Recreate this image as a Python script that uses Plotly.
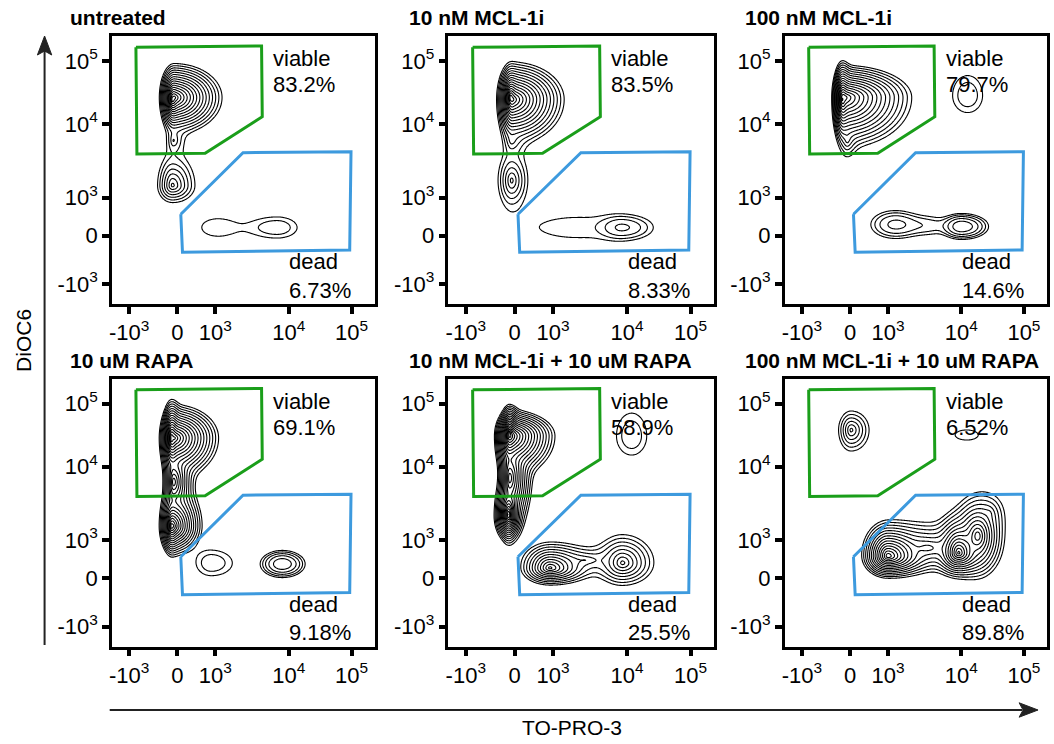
import numpy as np
import plotly.graph_objects as go

# ---------------- data ----------------
PANEL_TITLES = ["untreated", "10 nM MCL-1i", "100 nM MCL-1i",
                "10 uM RAPA", "10 nM MCL-1i + 10 uM RAPA", "100 nM MCL-1i + 10 uM RAPA"]
VIABLE_PCT = ["83.2%", "83.5%", "79.7%", "69.1%", "58.9%", "6.52%"]
DEAD_PCT = ["6.73%", "8.33%", "14.6%", "9.18%", "25.5%", "89.8%"]

# biexponential display scale: tick labels and their display-channel positions
TICK_TEXT = ["-10<sup>3</sup>", "0", "10<sup>3</sup>", "10<sup>4</sup>", "10<sup>5</sup>"]
TICK_CHANNEL = [-48.5, 0, 38, 111.5, 174.5]
X_CHANNEL_RANGE = [-65.7, 197.7]
Y_CHANNEL_RANGE = [-68.5, 199.5]

# gates (display channels): TO-PRO-3 (x), DiOC6 (y)
VIABLE_GATE_X = [-41.7, 84.3, 85.0, 27.7, -40.7]
VIABLE_GATE_Y = [188.2, 189.5, 118.8, 82.2, 81.5]
DEAD_GATE_X = [3.3, 65.7, 174.0, 172.7, 5.0]
DEAD_GATE_Y = [21.2, 82.8, 83.8, -14.5, -16.8]

# cell populations per sample: centre x, centre y, spread left/right/down/up,
# log10 peak density, profile (1 = sharp, 2 = gaussian)
POPS_UNTREATED = [
    [-3, 138, 2.2, 6.9, 5.2, 4.9, 0.0, 1],
    [-5, 136, 1.2, 1.5, 3.5, 3.5, 0.1, 1],
    [-4, 95, 4, 6, 8, 8, -2.4, 1],
    [-5, 50, 5.0, 7.5, 5.7, 10, -1.7, 1],
    [40, 8, 18.6, 18.6, 10.2, 10.2, -2.85, 2],
    [100, 8, 20.5, 15.7, 8.3, 8.3, -2.65, 2],
]
POPS_MCL10 = [
    [-2, 136, 2.3, 7.4, 6.4, 5.4, 0.0, 1],
    [-4, 138, 1.2, 1.5, 4, 4, 0.1, 1],
    [-3, 95, 4, 6, 8, 8, -2.4, 1],
    [-3, 55, 5.3, 6.3, 11, 10.7, -1.9, 1],
    [107, 8, 12.6, 16.3, 6.9, 6.9, -2.45, 2],
    [62, 8, 48, 48, 13.5, 13.5, -2.88, 2],
]
POPS_MCL100 = [
    [-6, 138, 1.7, 9.5, 7, 4.5, 0.1, 1],
    [-8, 136, 1.2, 1.5, 5, 5, 0.2, 1],
    [-3, 96, 3, 4, 8, 8, -2.2, 1],
    [118, 140, 11.8, 11.8, 13.4, 15.7, -2.65, 2],
    [112, 9, 9.6, 12.9, 6.2, 6.2, -2.05, 2],
    [45, 11, 14, 14, 8, 8, -2.35, 2],
    [78, 10, 15, 15, 7, 7, -2.7, 2],
]
POPS_RAPA = [
    [-3, 140, 2.2, 6.4, 5.8, 4.8, 0.0, 1],
    [-6, 140, 1.2, 1.5, 5, 5, 0.2, 1],
    [-4, 96, 2, 4, 8, 8, -0.8, 1],
    [-4, 52, 2.3, 4.6, 4.7, 6.5, -0.3, 1],
    [-6, 52, 1.2, 1.5, 4, 4, -0.1, 1],
    [34, 15, 11.8, 16.5, 10, 10, -2.65, 2],
    [105, 14, 10.5, 11, 6.5, 6.5, -2.05, 2],
]
POPS_MCL10_RAPA = [
    [-5, 142, 2.1, 6.3, 5.6, 3.6, 0.1, 1],
    [-5, 146, 1.2, 1.5, 5, 3.5, 0.25, 1],
    [-5, 100, 2, 4, 10, 10, -0.6, 1],
    [-6, 62, 2.3, 2.2, 4, 6.5, -0.3, 1],
    [-6, 64, 1.2, 1.3, 4, 4, -0.1, 1],
    [116, 142, 11.8, 11.8, 15, 18, -2.65, 2],
    [35, 10, 5.8, 8.3, 3.5, 5.2, -0.9, 1],
    [107, 15, 7.2, 8.7, 6.4, 8.1, -1.5, 1],
    [70, 18, 18, 18, 6, 6, -2.3, 1],
]
POPS_MCL100_RAPA = [
    [1, 148, 5, 7.1, 8.3, 7.5, -1.9, 1],
    [117, 143, 17, 17, 7.4, 7.4, -2.9, 2],
    [38, 22, 4.0, 7, 3.4, 5.4, -0.2, 1],
    [109, 25, 4, 4.8, 3.9, 6.5, -0.3, 1],
    [128, 42, 5, 5, 8, 8, -0.8, 1],
    [140, 65, 8, 8, 10, 10, -2.4, 1],
    [78, 30, 14, 16, 7, 8, -1.7, 1],
]
ALL_POPS = [POPS_UNTREATED, POPS_MCL10, POPS_MCL100,
            POPS_RAPA, POPS_MCL10_RAPA, POPS_MCL100_RAPA]

# ---------------- layout geometry (pixels) ----------------
W, H = 1054, 744
COL_X = [(109.3, 372.7), (446.7, 713.0), (784.0, 1047.0)]
ROW_Y = [(36.0, 304.0), (378.5, 646.5)]
TITLE_X = [65, 405, 742]
TITLE_Y = [18, 360]
FONT = "Liberation Sans, Arial, sans-serif"
GREEN = "#1a9e1a"
BLUE = "#3d9ade"


def px(x):
    return x / W


def py(y):
    return 1 - y / H


def density_grid(pops, xs, ys):
    X, Y = np.meshgrid(xs, ys)
    d = np.zeros_like(X)
    for cx, cy, sxl, sxr, syd, syu, pk, prof in pops:
        sx = np.where(X < cx, sxl, sxr)
        sy = np.where(Y < cy, syd, syu)
        r2 = ((X - cx) / sx) ** 2 + ((Y - cy) / sy) ** 2
        if prof == 1:
            d += 10 ** pk * np.exp(-np.sqrt(r2))
        else:
            d += 10 ** pk * np.exp(-0.5 * r2)
    return np.log10(d + 1e-12)


xs = np.arange(X_CHANNEL_RANGE[0], X_CHANNEL_RANGE[1] + 0.5, 0.75)
ys = np.arange(Y_CHANNEL_RANGE[0], Y_CHANNEL_RANGE[1] + 0.5, 0.75)

fig = go.Figure()
annotations = []
layout_axes = {}

for i in range(6):
    r, c = divmod(i, 3)
    n = i + 1
    xname = "x" if n == 1 else f"x{n}"
    yname = "y" if n == 1 else f"y{n}"
    xkey = "xaxis" if n == 1 else f"xaxis{n}"
    ykey = "yaxis" if n == 1 else f"yaxis{n}"
    x0, x1 = COL_X[c]
    y0, y1 = ROW_Y[r]

    Z = density_grid(ALL_POPS[i], xs, ys)
    fig.add_trace(go.Contour(
        x=xs, y=ys, z=Z, xaxis=xname, yaxis=yname,
        contours=dict(start=-3.0, end=1.2, size=0.2, coloring="lines"),
        colorscale=[[0, "black"], [1, "black"]], showscale=False,
        line=dict(width=1.1, smoothing=1.0), hoverinfo="skip"))

    fig.add_trace(go.Scatter(
        x=VIABLE_GATE_X + VIABLE_GATE_X[:1], y=VIABLE_GATE_Y + VIABLE_GATE_Y[:1],
        mode="lines", line=dict(color=GREEN, width=3), xaxis=xname, yaxis=yname,
        hoverinfo="skip", showlegend=False))
    fig.add_trace(go.Scatter(
        x=DEAD_GATE_X + DEAD_GATE_X[:1], y=DEAD_GATE_Y + DEAD_GATE_Y[:1],
        mode="lines", line=dict(color=BLUE, width=3), xaxis=xname, yaxis=yname,
        hoverinfo="skip", showlegend=False))

    axis_common = dict(
        showline=True, mirror=True, linecolor="black", linewidth=2.5,
        ticks="outside", ticklen=7, tickwidth=3.5, tickcolor="black",
        tickvals=TICK_CHANNEL, ticktext=TICK_TEXT,
        tickfont=dict(family=FONT, size=22, color="black"),
        showgrid=False, zeroline=False, fixedrange=True)
    layout_axes[xkey] = dict(axis_common, domain=[px(x0), px(x1)],
                             range=X_CHANNEL_RANGE, anchor=yname)
    layout_axes[ykey] = dict(axis_common, domain=[py(y1), py(y0)],
                             range=Y_CHANNEL_RANGE, anchor=xname)

    annotations.append(dict(
        text=f"<b>{PANEL_TITLES[i]}</b>", xref="paper", yref="paper",
        x=px(TITLE_X[c]), y=py(TITLE_Y[r]), xanchor="left", yanchor="middle",
        showarrow=False, font=dict(family=FONT, size=21, color="black")))
    for txt, yy in (("viable", 177), (VIABLE_PCT[i], 150.5)):
        annotations.append(dict(text=txt, xref=xname, yref=yname, x=94, y=yy,
                                xanchor="left", yanchor="middle", showarrow=False,
                                font=dict(family=FONT, size=22, color="black")))
    for txt, yy in (("dead", -26), (DEAD_PCT[i], -54.5)):
        annotations.append(dict(text=txt, xref=xname, yref=yname, x=110, y=yy,
                                xanchor="left", yanchor="middle", showarrow=False,
                                font=dict(family=FONT, size=22, color="black")))

# axis names
annotations.append(dict(text="DiOC6", xref="paper", yref="paper", x=px(20), y=py(340),
                        textangle=-90, showarrow=False, xanchor="center", yanchor="middle",
                        font=dict(family=FONT, size=21, color="black")))
annotations.append(dict(text="TO-PRO-3", xref="paper", yref="paper", x=px(571), y=py(727),
                        showarrow=False, xanchor="center", yanchor="middle",
                        font=dict(family=FONT, size=21, color="black")))

shapes = [
    dict(type="line", xref="paper", yref="paper", x0=px(41.7), x1=px(41.7),
         y0=py(645), y1=py(50), line=dict(color="#222", width=2)),
    dict(type="path", xref="paper", yref="paper",
         path=f"M {px(41.7)} {py(36)} L {px(34.5)} {py(55)} L {px(41.7)} {py(51)} "
              f"L {px(48.9)} {py(55)} Z",
         fillcolor="#222", line=dict(color="#222", width=1)),
    dict(type="line", xref="paper", yref="paper", x0=px(107), x1=px(1022),
         y0=py(710), y1=py(710), line=dict(color="#222", width=2)),
    dict(type="path", xref="paper", yref="paper",
         path=f"M {px(1038)} {py(710)} L {px(1019)} {py(702.8)} L {px(1023)} {py(710)} "
              f"L {px(1019)} {py(717.2)} Z",
         fillcolor="#222", line=dict(color="#222", width=1)),
]

fig.update_layout(
    width=W, height=H, margin=dict(l=0, r=0, t=0, b=0),
    paper_bgcolor="white", plot_bgcolor="white", showlegend=False,
    font=dict(family=FONT, color="black"),
    annotations=annotations, shapes=shapes, **layout_axes)

fig.write_html("out.html")
